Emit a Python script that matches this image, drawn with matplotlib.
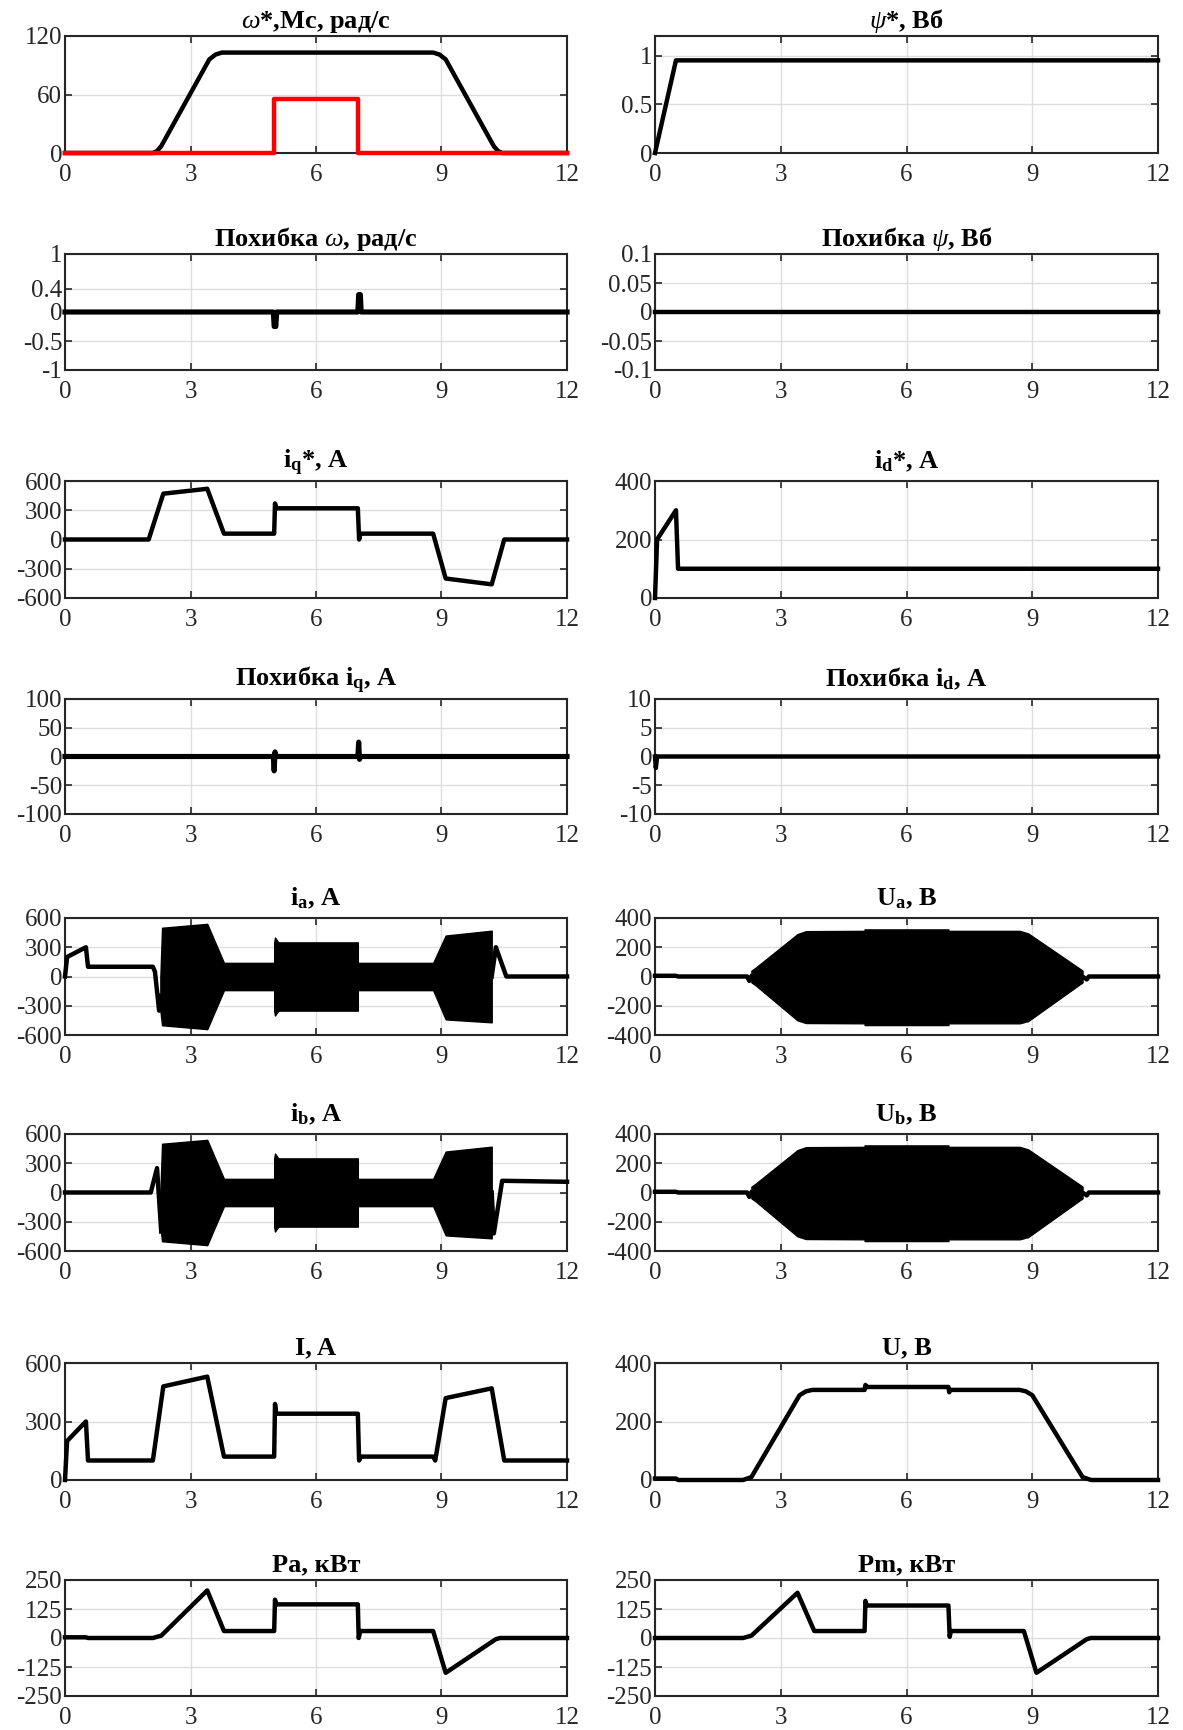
import numpy as np
import matplotlib
matplotlib.use("Agg")
import matplotlib.pyplot as plt

#################### Data

# speed reference and load torque
t_w = [0, 2.1, 2.2, 2.3, 3.45, 3.6, 3.75, 8.8, 8.95, 9.1, 10.25, 10.35, 10.45, 12]
w_ref = [0, 0, 2, 7, 96, 101, 103, 103, 101, 96, 7, 2, 0, 0]
t_mc = [0, 5.0, 5.0, 7.0, 7.0, 12]
mc = [0, 0, 55, 55, 0, 0]

# flux reference
t_psi = [0, 0.5, 12]
psi_ref = [0, 0.95, 0.95]

# speed error
t_ew = [0, 4.98, 5.0, 5.04, 5.06, 7.0, 7.02, 7.06, 7.08, 12]
err_w = [0, 0, -0.25, -0.25, 0, 0, 0.3, 0.3, 0, 0]

# flux error
t_epsi = [0, 12]
err_psi = [0, 0]

# iq reference
t_iq = [0, 2.0, 2.35, 3.4, 3.8, 5.0, 5.02, 5.05, 7.0, 7.03, 7.06, 8.8, 9.1, 10.2, 10.5, 12]
iq_ref = [0, 0, 470, 520, 60, 60, 370, 320, 320, 0, 60, 60, -400, -460, 0, 0]

# id reference
t_id = [0, 0.05, 0.5, 0.55, 12]
id_ref = [0, 200, 300, 100, 100]

# current errors
t_eiq = [0, 4.98, 5.0, 5.02, 5.04, 7.0, 7.02, 7.04, 7.06, 12]
err_iq = [0, 0, -25, 8, 0, 0, 25, -5, 0, 0]
t_eid = [0, 0.02, 0.05, 12]
err_id = [0, -2, 0, 0]

# phase currents: envelope of the oscillating part + lines before/after
t_i_env = [2.28, 2.32, 3.4, 3.8, 5.0, 5.0, 5.02, 5.1, 7.0, 7.0, 8.8, 9.1, 10.2]
i_env_up = [0, 500, 540, 140, 140, 350, 400, 350, 350, 140, 140, 420, 470]
i_env_lo = [-350, -500, -540, -140, -140, -350, -400, -350, -350, -140, -140, -440, -470]

t_ia_pre = [0, 0.05, 0.5, 0.55, 2.1, 2.15, 2.25, 2.3]
ia_pre = [0, 200, 300, 100, 100, 50, -350, -200]
t_ia_post = [10.2, 10.3, 10.55, 12]
ia_post = [0, 300, 0, 0]

t_ib_pre = [0, 2.05, 2.2, 2.3]
ib_pre = [0, 0, 250, -400]
t_ib_post = [10.2, 10.25, 10.45, 12]
ib_post = [0, -420, 120, 110]

# phase voltages envelope
t_u_env = [2.3, 2.4, 3.4, 3.6, 5.0, 5.0, 7.0, 7.0, 8.7, 8.9, 10.1, 10.2]
u_env_up = [40, 60, 290, 310, 312, 322, 322, 312, 312, 295, 60, 40]
u_env_lo = [-40, -60, -300, -318, -320, -332, -332, -320, -320, -305, -60, -40]
t_u_pre = [0, 0.5, 0.55, 2.2, 2.25, 2.3]
u_pre = [5, 5, 0, 0, -30, 0]
t_u_post = [10.2, 10.3, 10.35, 12]
u_post = [0, -20, 0, 0]

# current magnitude
t_I = [0, 0.05, 0.5, 0.55, 2.1, 2.35, 3.4, 3.8, 5.0, 5.02, 5.05, 7.0, 7.03, 7.07, 8.8, 8.85, 9.1, 10.2, 10.5, 12]
I_mag = [0, 200, 300, 100, 100, 480, 530, 120, 120, 390, 340, 340, 100, 120, 120, 100, 420, 470, 100, 100]

# voltage magnitude
t_U = [0, 0.5, 0.55, 2.1, 2.3, 3.45, 3.6, 3.75, 5.0, 5.02, 5.05, 7.0, 7.02, 7.05, 8.7, 8.85, 9.0, 10.2, 10.4, 12]
U_mag = [5, 5, 0, 0, 10, 290, 303, 308, 308, 325, 318, 318, 300, 308, 308, 303, 290, 10, 0, 0]

# powers
t_pa = [0, 0.5, 0.55, 2.1, 2.3, 3.4, 3.8, 5.0, 5.02, 5.05, 7.0, 7.02, 7.06, 8.8, 9.1, 10.3, 10.4, 12]
pa = [3, 3, 0, 0, 10, 205, 30, 30, 165, 145, 145, 0, 30, 30, -150, -5, 0, 0]
t_pm = [0, 2.1, 2.3, 3.4, 3.8, 5.0, 5.02, 5.05, 7.0, 7.03, 7.06, 8.8, 9.1, 10.3, 10.4, 12]
pm = [0, 0, 10, 195, 30, 30, 160, 140, 140, 5, 30, 30, -150, -5, 0, 0]

#################### Plot parameters

plt.rcParams.update({
    'font.family': 'Liberation Serif',
    'font.size': 18,
    'mathtext.fontset': 'custom',
    'mathtext.rm': 'Liberation Serif',
    'mathtext.it': 'Liberation Serif:italic',
    'mathtext.bf': 'Liberation Serif:bold',
    'axes.unicode_minus': False,
})

W, H = 1183, 1730
fig = plt.figure(figsize=(W / 100, H / 100), dpi=100)

cols = [(65, 567), (655, 1158)]
rows = [(36, 153), (254, 370), (481, 598), (699, 814),
        (918, 1035), (1134, 1251), (1363, 1480), (1580, 1696)]


def make_ax(r, c, title, ylim, yticks, tpad=6):
    x0, x1 = cols[c]
    y0, y1 = rows[r]
    ax = fig.add_axes((x0 / W, 1 - y1 / H, (x1 - x0) / W, (y1 - y0) / H))
    ax.set_xlim(0, 12)
    ax.set_xticks([0, 3, 6, 9, 12])
    ax.set_ylim(*ylim)
    ax.set_yticks(yticks)
    ax.set_yticklabels([f'{v:g}' for v in yticks])
    ax.grid(True, color='#dedede', linewidth=1)
    ax.set_axisbelow(True)
    ax.tick_params(direction='in', top=True, right=True, length=5, width=1.2,
                   colors='#262626', labelsize=18)
    ax.tick_params(axis='x', pad=8)
    ax.tick_params(axis='y', pad=2)
    for s in ax.spines.values():
        s.set_linewidth(1.5)
        s.set_color('#262626')
    ax.set_title(title, fontsize=19, fontweight='bold', pad=tpad)
    return ax


lw = 3.2
k = 'black'


def line(ax, t, v, color=k, width=lw):
    ax.plot(t, v, color=color, lw=width, clip_on=False, zorder=3)


def band(ax, t, lo, up):
    ax.fill_between(t, lo, up, color=k, lw=1, zorder=3)


ax = make_ax(0, 0, r'$\omega$*,Мс, рад/с', (0, 120), [0, 60, 120])
line(ax, t_w, w_ref)
line(ax, t_mc, mc, color='red')

ax = make_ax(0, 1, r'$\psi$*, Вб', (0, 1.2), [0, 0.5, 1])
line(ax, t_psi, psi_ref)

ax = make_ax(1, 0, r'Похибка $\omega$, рад/с', (-1, 1), [-1, -0.5, 0, 0.4, 1])
line(ax, t_ew, err_w, width=lw + 0.5)

ax = make_ax(1, 1, r'Похибка $\psi$, Вб', (-0.1, 0.1), [-0.1, -0.05, 0, 0.05, 0.1])
line(ax, t_epsi, err_psi)

ax = make_ax(2, 0, r'i$_\mathbf{q}$*, A', (-600, 600), [-600, -300, 0, 300, 600], tpad=9)
line(ax, t_iq, iq_ref)

ax = make_ax(2, 1, r'i$_\mathbf{d}$*, A', (0, 400), [0, 200, 400], tpad=9)
line(ax, t_id, id_ref)

ax = make_ax(3, 0, r'Похибка i$_\mathbf{q}$, A', (-100, 100), [-100, -50, 0, 50, 100], tpad=9)
line(ax, t_eiq, err_iq, width=lw + 0.5)

ax = make_ax(3, 1, r'Похибка i$_\mathbf{d}$, A', (-10, 10), [-10, -5, 0, 5, 10], tpad=9)
line(ax, t_eid, err_id)

ax = make_ax(4, 0, r'i$_\mathbf{a}$, A', (-600, 600), [-600, -300, 0, 300, 600], tpad=9)
line(ax, t_ia_pre, ia_pre)
band(ax, t_i_env, i_env_lo, i_env_up)
line(ax, t_ia_post, ia_post)

ax = make_ax(4, 1, r'U$_\mathbf{a}$, B', (-400, 400), [-400, -200, 0, 200, 400], tpad=9)
line(ax, t_u_pre, u_pre)
band(ax, t_u_env, u_env_lo, u_env_up)
line(ax, t_u_post, u_post)

ax = make_ax(5, 0, r'i$_\mathbf{b}$, A', (-600, 600), [-600, -300, 0, 300, 600], tpad=9)
line(ax, t_ib_pre, ib_pre)
band(ax, t_i_env, i_env_lo, i_env_up)
line(ax, t_ib_post, ib_post)

ax = make_ax(5, 1, r'U$_\mathbf{b}$, B', (-400, 400), [-400, -200, 0, 200, 400], tpad=9)
line(ax, t_u_pre, u_pre)
band(ax, t_u_env, u_env_lo, u_env_up)
line(ax, t_u_post, u_post)

ax = make_ax(6, 0, 'I, A', (0, 600), [0, 300, 600])
line(ax, t_I, I_mag)

ax = make_ax(6, 1, 'U, B', (0, 400), [0, 200, 400])
line(ax, t_U, U_mag)

ax = make_ax(7, 0, 'Pa, кВт', (-250, 250), [-250, -125, 0, 125, 250])
line(ax, t_pa, pa)

ax = make_ax(7, 1, 'Pm, кВт', (-250, 250), [-250, -125, 0, 125, 250])
line(ax, t_pm, pm)

fig.savefig('out.png', dpi=100)
